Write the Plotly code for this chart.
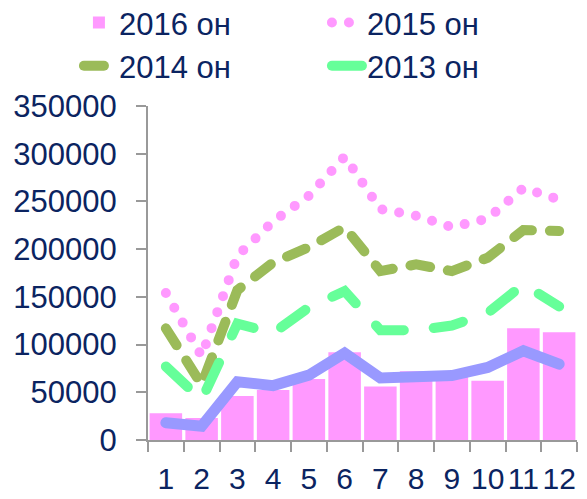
import plotly.graph_objects as go

months = [str(m) for m in range(1, 13)]

sales_2016 = [28000, 23000, 46000, 52500, 64000, 92000, 56000, 72000, 70000, 62000, 117000, 113000]
sales_2015 = [154000, 88000, 193000, 229000, 256000, 297000, 242000, 235000, 223000, 232000, 264000, 252000]
sales_2014 = [117000, 58000, 157000, 186000, 202000, 223000, 177000, 184000, 177000, 191000, 220000, 219000]
sales_2013 = [77000, 42000, 122000, 112000, 139000, 156000, 115000, 115000, 120000, 133000, 163000, 140000]
blue_line = [18000, 14500, 61000, 57000, 68000, 91000, 65000, 66000, 67500, 76000, 93500, 79500]

navy = "#0b2461"
font = dict(family="Liberation Sans", size=31, color=navy)

fig = go.Figure()

fig.add_trace(go.Bar(
    x=months, y=sales_2016, name="2016 он",
    marker=dict(color="#FF99FF", line=dict(width=0)),
))
fig.add_trace(go.Scatter(
    x=months, y=sales_2015, name="2015 он", mode="lines",
    line=dict(color="#FF99FF", width=10, dash="0px,17px"),
))
fig.add_trace(go.Scatter(
    x=months, y=sales_2014, name="2014 он", mode="lines",
    line=dict(color="#9BBB59", width=10, dash="20px,18px"),
))
fig.add_trace(go.Scatter(
    x=months, y=sales_2013, name="2013 он", mode="lines",
    line=dict(color="#66FF99", width=10, dash="30px,30px"),
))
fig.add_trace(go.Scatter(
    x=months, y=blue_line, mode="lines", showlegend=False,
    line=dict(color="#9999FF", width=11),
))

fig.update_layout(
    width=587, height=499,
    margin=dict(l=148, r=10, t=106, b=59, autoexpand=False),
    paper_bgcolor="white", plot_bgcolor="white",
    font=font,
    bargap=0.09,
    showlegend=True,
    legend=dict(
        orientation="h", x=-0.161, y=1.33, xref="paper", yref="paper",
        xanchor="left", yanchor="top",
        entrywidth=203, entrywidthmode="pixels",
        font=font, bgcolor="rgba(0,0,0,0)", tracegroupgap=0,
    ),
    xaxis=dict(
        type="category", showgrid=False, showline=True, linecolor="#999999", linewidth=2,
        ticks="outside", tickson="boundaries", ticklen=10, tickcolor="#999999", tickwidth=2,
        tickfont=dict(family="Liberation Sans", size=30, color=navy),
        tickangle=0, ticklabelstandoff=11, dtick=1,
    ),
    yaxis=dict(
        range=[0, 350000], dtick=50000, showgrid=False, showline=True,
        linecolor="#999999", linewidth=2, ticks="outside", ticklen=10,
        tickcolor="#999999", tickwidth=2, tickfont=font, ticklabelstandoff=13,
        zeroline=False, tickformat="d",
    ),
)

round_caps = """
document.body.style.margin = '0';
document.querySelectorAll('.js-line, .scatterlayer path').forEach(function(p){
  p.style.strokeLinecap = 'round';
});
"""

fig.write_html("out.html", post_script=round_caps, config={"displayModeBar": False})
